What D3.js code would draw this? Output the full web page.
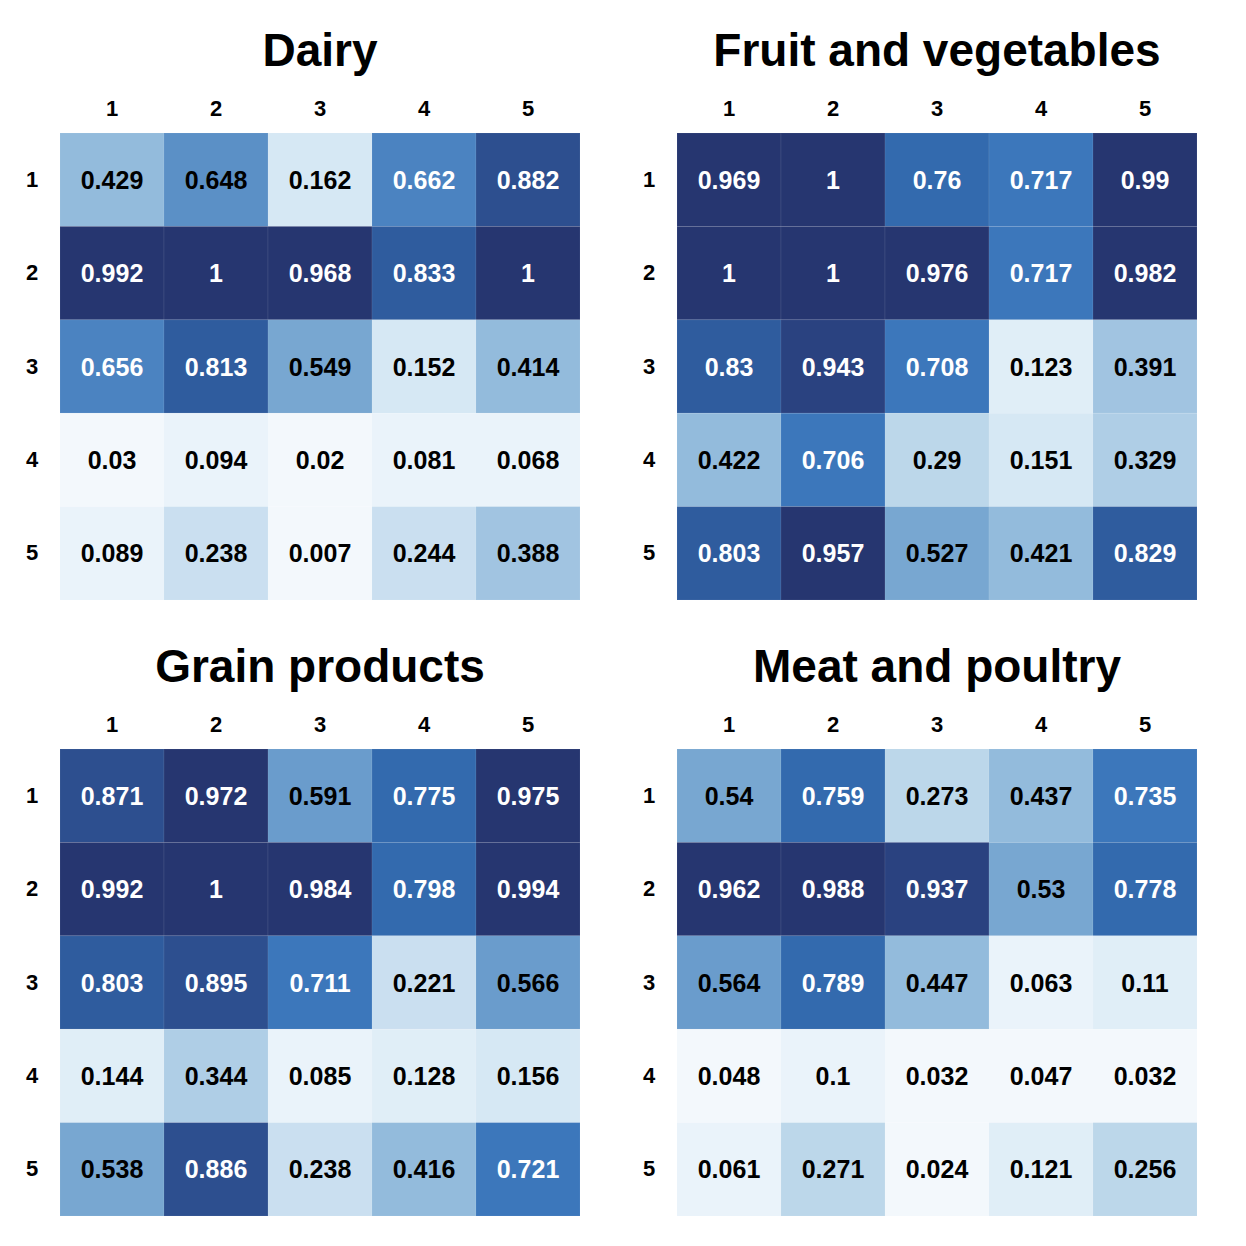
<!DOCTYPE html>
<html>
<head>
<meta charset="utf-8">
<script src="https://cdn.jsdelivr.net/npm/d3@7"></script>
<style>
  html, body { margin: 0; padding: 0; background: #ffffff; }
  svg text { font-family: "Liberation Sans", Arial, Helvetica, sans-serif; font-weight: bold; }
</style>
</head>
<body>
<svg id="chart" width="1246" height="1246"></svg>
<script>
// ---- data ----
const panelTitles = ["Dairy", "Fruit and vegetables", "Grain products", "Meat and poultry"];
const rowLabels = ["1", "2", "3", "4", "5"];
const colLabels = ["1", "2", "3", "4", "5"];

const dairy = [
  [0.429, 0.648, 0.162, 0.662, 0.882],
  [0.992, 1,     0.968, 0.833, 1],
  [0.656, 0.813, 0.549, 0.152, 0.414],
  [0.03,  0.094, 0.02,  0.081, 0.068],
  [0.089, 0.238, 0.007, 0.244, 0.388]
];
const fruitVeg = [
  [0.969, 1,     0.76,  0.717, 0.99],
  [1,     1,     0.976, 0.717, 0.982],
  [0.83,  0.943, 0.708, 0.123, 0.391],
  [0.422, 0.706, 0.29,  0.151, 0.329],
  [0.803, 0.957, 0.527, 0.421, 0.829]
];
const grain = [
  [0.871, 0.972, 0.591, 0.775, 0.975],
  [0.992, 1,     0.984, 0.798, 0.994],
  [0.803, 0.895, 0.711, 0.221, 0.566],
  [0.144, 0.344, 0.085, 0.128, 0.156],
  [0.538, 0.886, 0.238, 0.416, 0.721]
];
const meat = [
  [0.54,  0.759, 0.273, 0.437, 0.735],
  [0.962, 0.988, 0.937, 0.53,  0.778],
  [0.564, 0.789, 0.447, 0.063, 0.11],
  [0.048, 0.1,   0.032, 0.047, 0.032],
  [0.061, 0.271, 0.024, 0.121, 0.256]
];
const panelData = [dairy, fruitVeg, grain, meat];

// binned blue palette (20 steps over 0..1)
const palette = [
  "#f3f8fc", "#eaf3fa", "#e0eef7", "#d6e8f4", "#cadff0",
  "#bcd7ea", "#afcee6", "#a1c4e1", "#93bbdc", "#86b1d7",
  "#78a7d1", "#6a9ccc", "#5b90c6", "#4b83c1", "#3c77bb",
  "#336aae", "#2f5c9e", "#2d4f8f", "#2a4280", "#263670"
];

// ---- layout ----
const svg = d3.select("#chart");
const quant = d3.scaleQuantize().domain([0, 1]).range(palette);
// bins are closed on the right: (a, b]
const color = v => quant(Math.max(0, v - 1e-9));
const panelW = 520, panelH = 467;
const origins = [[60, 133], [677, 133], [60, 749], [677, 749]];

panelData.forEach((mat, pi) => {
  const [ox, oy] = origins[pi];
  const g = svg.append("g").attr("transform", `translate(${ox},${oy})`);
  const x = d3.scaleBand().domain(colLabels).range([0, panelW]).padding(0);
  const y = d3.scaleBand().domain(rowLabels).range([0, panelH]).padding(0);

  const cells = [];
  mat.forEach((row, ri) => row.forEach((v, ci) => cells.push({r: rowLabels[ri], c: colLabels[ci], v})));

  g.selectAll("rect.cell").data(cells).join("rect")
    .attr("class", "cell")
    .attr("x", d => x(d.c))
    .attr("y", d => y(d.r))
    .attr("width", x.bandwidth())
    .attr("height", y.bandwidth())
    .attr("fill", d => color(d.v))
    .attr("stroke", "rgba(255,255,255,0.07)")
    .attr("stroke-width", 1);

  g.selectAll("text.val").data(cells).join("text")
    .attr("class", "val")
    .attr("x", d => x(d.c) + x.bandwidth() / 2)
    .attr("y", d => y(d.r) + y.bandwidth() / 2)
    .attr("text-anchor", "middle")
    .attr("dominant-baseline", "central")
    .attr("font-size", 25)
    .attr("fill", d => d.v >= 0.65 ? "#ffffff" : "#000000")
    .text(d => String(d.v));

  // column labels (top axis)
  const xAxis = d3.axisTop(x).tickSize(0).tickPadding(0);
  const ax = g.append("g").attr("transform", "translate(0,-25)").call(xAxis);
  ax.select(".domain").remove();
  ax.selectAll("text").attr("font-size", 22).attr("fill", "#000")
    .attr("dy", "0.35em").attr("font-family", null);

  // row labels (left axis)
  const yAxis = d3.axisLeft(y).tickSize(0).tickPadding(0);
  const ay = g.append("g").attr("transform", "translate(-28,0)").call(yAxis);
  ay.select(".domain").remove();
  ay.selectAll("text").attr("font-size", 22).attr("fill", "#000")
    .attr("text-anchor", "middle").attr("font-family", null);

  // title
  g.append("text")
    .attr("x", panelW / 2)
    .attr("y", -67)
    .attr("text-anchor", "middle")
    .attr("font-size", 46)
    .attr("fill", "#000")
    .text(panelTitles[pi]);
});
</script>
</body>
</html>
